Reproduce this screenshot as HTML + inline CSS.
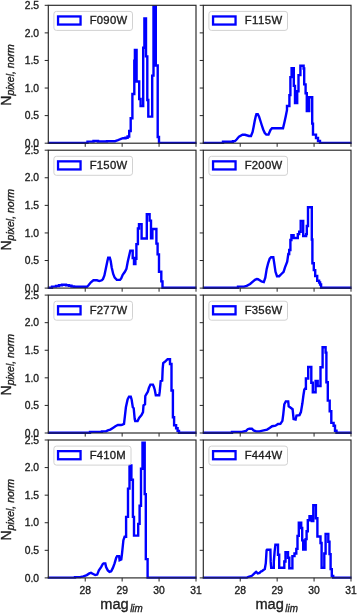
<!DOCTYPE html><html><head><meta charset="utf-8"><style>html,body{margin:0;padding:0;background:#fff;width:357px;height:614px;overflow:hidden}svg{display:block;will-change:transform}</style></head><body>
<svg width="357" height="614" viewBox="0 0 357 614" font-family='"Liberation Sans", sans-serif'>
<style>text{stroke:#1e1e1e;stroke-width:0.35px}</style>
<rect width="357" height="614" fill="#fff"/>
<clipPath id="c00"><rect x="47.80" y="5.30" width="148.70" height="139.40"/></clipPath>
<path d="M40,142.90 H87.5 V141.6 H93.5 V141 H98 V141.5 H107 V141.2 H115 L116.5,140.7 L118,140.2 L119.5,139.5 L121,138.8 L123,138.2 H125.5 V137.8 H127.6 V136.5 H129.2 V131 H130.7 V118.3 H132.4 V94 H134.3 V60.8 H134.9 V50 H136.6 V81.5 H139.2 V99 H140.6 V106 H143.2 V47.8 H144.4 V18.4 H146 V56.4 H147.3 V100 H148.3 V116.6 H152.2 V75.6 H153.5 V0 H155.8 V65.5 H157.7 V137 H159 V 142.90 H200" fill="none" stroke="#0000ff" stroke-width="2.4" stroke-linejoin="miter" clip-path="url(#c00)"/>
<rect x="48.30" y="5.30" width="147.70" height="137.90" fill="none" stroke="#262626" stroke-width="1.15"/>
<line x1="44.70" y1="143.20" x2="48.30" y2="143.20" stroke="#262626" stroke-width="1"/>
<text x="39.10" y="146.90" font-size="10.3" text-anchor="end" fill="#1e1e1e">0.0</text>
<line x1="44.70" y1="115.62" x2="48.30" y2="115.62" stroke="#262626" stroke-width="1"/>
<text x="39.10" y="119.32" font-size="10.3" text-anchor="end" fill="#1e1e1e">0.5</text>
<line x1="44.70" y1="88.04" x2="48.30" y2="88.04" stroke="#262626" stroke-width="1"/>
<text x="39.10" y="91.74" font-size="10.3" text-anchor="end" fill="#1e1e1e">1.0</text>
<line x1="44.70" y1="60.46" x2="48.30" y2="60.46" stroke="#262626" stroke-width="1"/>
<text x="39.10" y="64.16" font-size="10.3" text-anchor="end" fill="#1e1e1e">1.5</text>
<line x1="44.70" y1="32.88" x2="48.30" y2="32.88" stroke="#262626" stroke-width="1"/>
<text x="39.10" y="36.58" font-size="10.3" text-anchor="end" fill="#1e1e1e">2.0</text>
<line x1="44.70" y1="5.30" x2="48.30" y2="5.30" stroke="#262626" stroke-width="1"/>
<text x="39.10" y="9.00" font-size="10.3" text-anchor="end" fill="#1e1e1e">2.5</text>
<line x1="85.22" y1="143.20" x2="85.22" y2="146.80" stroke="#262626" stroke-width="1"/>
<line x1="122.15" y1="143.20" x2="122.15" y2="146.80" stroke="#262626" stroke-width="1"/>
<line x1="159.07" y1="143.20" x2="159.07" y2="146.80" stroke="#262626" stroke-width="1"/>
<line x1="196.00" y1="143.20" x2="196.00" y2="146.80" stroke="#262626" stroke-width="1"/>
<rect x="53.90" y="11.40" width="78.6" height="19" rx="2.5" fill="#fff" fill-opacity="0.8" stroke="#d2d2d2" stroke-width="1"/>
<rect x="58.05" y="16.45" width="22.5" height="8.1" fill="none" stroke="#0000ff" stroke-width="2.3"/>
<text x="89.70" y="24.30" font-size="11.3" textLength="37.4" lengthAdjust="spacing" fill="#1e1e1e">F090W</text>
<clipPath id="c01"><rect x="202.80" y="5.30" width="148.70" height="139.40"/></clipPath>
<path d="M195,142.90 H223 V141.7 H233 V141.1 H235 L236.6,139.5 L239,136.6 L242.5,134.8 H245 L249,136 H251 L252.6,132 L253.6,127 L254.7,121 L255.8,116 L256.4,114.2 H257.8 L259,116.5 L260.3,120.5 L261.7,125 L263.2,129.5 L264.8,133 L266.3,134.6 H268.5 L270.5,130 L272,128.3 H283 L284.5,122 L285.8,116 L287,110 V106 H289.4 V95.1 H290.4 V77.1 H291.6 V68.3 H293.8 V85.9 H295 V103 H297.2 V91.2 H298.5 V75.1 H300.4 V65.7 H303.6 V68.5 H304.2 V84.4 H305.6 V93.2 H306.8 V111 H309.2 V97.3 H312.2 V123.6 H313 V134.6 H316 V138 H318 V141 H320 V 142.90 H360" fill="none" stroke="#0000ff" stroke-width="2.4" stroke-linejoin="miter" clip-path="url(#c01)"/>
<rect x="203.30" y="5.30" width="147.70" height="137.90" fill="none" stroke="#262626" stroke-width="1.15"/>
<line x1="199.70" y1="143.20" x2="203.30" y2="143.20" stroke="#262626" stroke-width="1"/>
<line x1="199.70" y1="115.62" x2="203.30" y2="115.62" stroke="#262626" stroke-width="1"/>
<line x1="199.70" y1="88.04" x2="203.30" y2="88.04" stroke="#262626" stroke-width="1"/>
<line x1="199.70" y1="60.46" x2="203.30" y2="60.46" stroke="#262626" stroke-width="1"/>
<line x1="199.70" y1="32.88" x2="203.30" y2="32.88" stroke="#262626" stroke-width="1"/>
<line x1="199.70" y1="5.30" x2="203.30" y2="5.30" stroke="#262626" stroke-width="1"/>
<line x1="240.23" y1="143.20" x2="240.23" y2="146.80" stroke="#262626" stroke-width="1"/>
<line x1="277.15" y1="143.20" x2="277.15" y2="146.80" stroke="#262626" stroke-width="1"/>
<line x1="314.07" y1="143.20" x2="314.07" y2="146.80" stroke="#262626" stroke-width="1"/>
<line x1="351.00" y1="143.20" x2="351.00" y2="146.80" stroke="#262626" stroke-width="1"/>
<rect x="208.90" y="11.40" width="78.6" height="19" rx="2.5" fill="#fff" fill-opacity="0.8" stroke="#d2d2d2" stroke-width="1"/>
<rect x="213.05" y="16.45" width="22.5" height="8.1" fill="none" stroke="#0000ff" stroke-width="2.3"/>
<text x="244.70" y="24.30" font-size="11.3" textLength="37.4" lengthAdjust="spacing" fill="#1e1e1e">F115W</text>
<text transform="translate(11.4,74.95) rotate(-90)" text-anchor="middle" fill="#1e1e1e"><tspan font-size="14">N</tspan><tspan font-size="10.5" font-style="italic" dy="2.5">pixel, norm</tspan></text>
<clipPath id="c10"><rect x="47.80" y="150.20" width="148.70" height="139.40"/></clipPath>
<path d="M40,287.80 H52 V286.6 H56 V286 H59 V285.2 H62 V284.7 H66 V285.2 H69 V285.8 H71.5 V286.5 H74 V286.8 H87 L88.5,285.3 L90.9,282.3 L93.4,280.3 H97 L99.3,281.1 L101.8,280.3 L103,279 L104.4,275.5 L105.9,268.2 L107.3,261.6 L108.2,257.6 H109.8 L110.7,261 L111.7,267.4 L113.2,274 L114.7,277.7 L116.8,279.9 H120 L121.2,278.4 L122.7,274.8 L124.9,271.8 L126.4,268.9 L127.8,261.6 L129.3,255 L130.3,250.6 H132.7 V258 H134 V264 H135.4 V258.7 H136.4 V244.1 H137.9 V228.5 H139 V224.1 H141.6 V238.5 H146.8 V214.3 H149.6 V220.6 H151 V238.2 H152.4 V229 H156.4 V243.6 H157.6 V254.4 H159 V271.8 H161.3 V281.4 H162.5 V 287.80 H200" fill="none" stroke="#0000ff" stroke-width="2.4" stroke-linejoin="miter" clip-path="url(#c10)"/>
<rect x="48.30" y="150.20" width="147.70" height="137.90" fill="none" stroke="#262626" stroke-width="1.15"/>
<line x1="44.70" y1="288.10" x2="48.30" y2="288.10" stroke="#262626" stroke-width="1"/>
<text x="39.10" y="291.80" font-size="10.3" text-anchor="end" fill="#1e1e1e">0.0</text>
<line x1="44.70" y1="260.52" x2="48.30" y2="260.52" stroke="#262626" stroke-width="1"/>
<text x="39.10" y="264.22" font-size="10.3" text-anchor="end" fill="#1e1e1e">0.5</text>
<line x1="44.70" y1="232.94" x2="48.30" y2="232.94" stroke="#262626" stroke-width="1"/>
<text x="39.10" y="236.64" font-size="10.3" text-anchor="end" fill="#1e1e1e">1.0</text>
<line x1="44.70" y1="205.36" x2="48.30" y2="205.36" stroke="#262626" stroke-width="1"/>
<text x="39.10" y="209.06" font-size="10.3" text-anchor="end" fill="#1e1e1e">1.5</text>
<line x1="44.70" y1="177.78" x2="48.30" y2="177.78" stroke="#262626" stroke-width="1"/>
<text x="39.10" y="181.48" font-size="10.3" text-anchor="end" fill="#1e1e1e">2.0</text>
<line x1="44.70" y1="150.20" x2="48.30" y2="150.20" stroke="#262626" stroke-width="1"/>
<text x="39.10" y="153.90" font-size="10.3" text-anchor="end" fill="#1e1e1e">2.5</text>
<line x1="85.22" y1="288.10" x2="85.22" y2="291.70" stroke="#262626" stroke-width="1"/>
<line x1="122.15" y1="288.10" x2="122.15" y2="291.70" stroke="#262626" stroke-width="1"/>
<line x1="159.07" y1="288.10" x2="159.07" y2="291.70" stroke="#262626" stroke-width="1"/>
<line x1="196.00" y1="288.10" x2="196.00" y2="291.70" stroke="#262626" stroke-width="1"/>
<rect x="53.90" y="156.30" width="78.6" height="19" rx="2.5" fill="#fff" fill-opacity="0.8" stroke="#d2d2d2" stroke-width="1"/>
<rect x="58.05" y="161.35" width="22.5" height="8.1" fill="none" stroke="#0000ff" stroke-width="2.3"/>
<text x="89.70" y="169.20" font-size="11.3" textLength="37.4" lengthAdjust="spacing" fill="#1e1e1e">F150W</text>
<clipPath id="c11"><rect x="202.80" y="150.20" width="148.70" height="139.40"/></clipPath>
<path d="M195,287.80 H238 V286.6 H244 L246.7,285.9 L250.1,284 L253.4,281.2 L255,279.8 L256.8,279 L258,279.2 L260.1,280.5 L261.5,281.5 L263.8,282.1 L265.3,277.7 L266.7,268.9 L268.2,263 L269.7,258.7 L271.1,257.2 H273.3 L274,261.6 L275.5,271.8 L277,276.2 H279.2 L281.4,274 L283.6,271.8 L285,267.4 L287.2,261.6 L288.3,254 H289.2 V250 H290.4 V240 H291.4 V235.1 H293.6 V238 H297.8 V234.1 H299.2 V231.7 H300.7 V220.9 H303.2 V236 H306.1 V234.1 H306.8 V226 H308 V207.2 H311.8 V239.5 H312.4 V263.2 H313.8 V270.1 H315.2 V276 H317.2 V280.8 H319.1 V282.5 H320.1 V284.5 H321.1 V 287.80 H360" fill="none" stroke="#0000ff" stroke-width="2.4" stroke-linejoin="miter" clip-path="url(#c11)"/>
<rect x="203.30" y="150.20" width="147.70" height="137.90" fill="none" stroke="#262626" stroke-width="1.15"/>
<line x1="199.70" y1="288.10" x2="203.30" y2="288.10" stroke="#262626" stroke-width="1"/>
<line x1="199.70" y1="260.52" x2="203.30" y2="260.52" stroke="#262626" stroke-width="1"/>
<line x1="199.70" y1="232.94" x2="203.30" y2="232.94" stroke="#262626" stroke-width="1"/>
<line x1="199.70" y1="205.36" x2="203.30" y2="205.36" stroke="#262626" stroke-width="1"/>
<line x1="199.70" y1="177.78" x2="203.30" y2="177.78" stroke="#262626" stroke-width="1"/>
<line x1="199.70" y1="150.20" x2="203.30" y2="150.20" stroke="#262626" stroke-width="1"/>
<line x1="240.23" y1="288.10" x2="240.23" y2="291.70" stroke="#262626" stroke-width="1"/>
<line x1="277.15" y1="288.10" x2="277.15" y2="291.70" stroke="#262626" stroke-width="1"/>
<line x1="314.07" y1="288.10" x2="314.07" y2="291.70" stroke="#262626" stroke-width="1"/>
<line x1="351.00" y1="288.10" x2="351.00" y2="291.70" stroke="#262626" stroke-width="1"/>
<rect x="208.90" y="156.30" width="78.6" height="19" rx="2.5" fill="#fff" fill-opacity="0.8" stroke="#d2d2d2" stroke-width="1"/>
<rect x="213.05" y="161.35" width="22.5" height="8.1" fill="none" stroke="#0000ff" stroke-width="2.3"/>
<text x="244.70" y="169.20" font-size="11.3" textLength="37.4" lengthAdjust="spacing" fill="#1e1e1e">F200W</text>
<text transform="translate(11.4,219.85) rotate(-90)" text-anchor="middle" fill="#1e1e1e"><tspan font-size="14">N</tspan><tspan font-size="10.5" font-style="italic" dy="2.5">pixel, norm</tspan></text>
<clipPath id="c20"><rect x="47.80" y="295.10" width="148.70" height="139.40"/></clipPath>
<path d="M40,432.70 H90 V431.9 H102 V431.4 H106 L107.8,430.4 L110.3,429.6 L112.9,427.9 L115.4,426.2 L117.9,425 H121 L122,424.9 L124,423.9 L124.9,416.1 L125.9,407.3 L127.6,399.4 L129,396.8 H130.8 L131.6,399.4 L132.8,407.3 L133.7,408.2 L134.7,419 L135.2,421 H137.6 L139.1,418 L141.5,415.1 L143,412.1 L143.5,405.3 L145,404.3 L145.3,396 L146.4,394.1 L147.9,391.6 L148.9,388 L150.4,384.6 H152.9 L153.9,387 L154.8,390 L155.8,395.3 H159.2 L159.7,391.9 L160.7,381.2 L162.2,380.7 L162.7,368.5 L163.2,363.1 L164.6,362.1 L166.1,360.6 L167.6,359.2 H170 V364 H171.5 V390.5 H172.9 V417.3 H174.1 V425.3 H176.1 V428.3 H177.6 V430.9 H179 V 432.70 H200" fill="none" stroke="#0000ff" stroke-width="2.4" stroke-linejoin="miter" clip-path="url(#c20)"/>
<rect x="48.30" y="295.10" width="147.70" height="137.90" fill="none" stroke="#262626" stroke-width="1.15"/>
<line x1="44.70" y1="433.00" x2="48.30" y2="433.00" stroke="#262626" stroke-width="1"/>
<text x="39.10" y="436.70" font-size="10.3" text-anchor="end" fill="#1e1e1e">0.0</text>
<line x1="44.70" y1="405.42" x2="48.30" y2="405.42" stroke="#262626" stroke-width="1"/>
<text x="39.10" y="409.12" font-size="10.3" text-anchor="end" fill="#1e1e1e">0.5</text>
<line x1="44.70" y1="377.84" x2="48.30" y2="377.84" stroke="#262626" stroke-width="1"/>
<text x="39.10" y="381.54" font-size="10.3" text-anchor="end" fill="#1e1e1e">1.0</text>
<line x1="44.70" y1="350.26" x2="48.30" y2="350.26" stroke="#262626" stroke-width="1"/>
<text x="39.10" y="353.96" font-size="10.3" text-anchor="end" fill="#1e1e1e">1.5</text>
<line x1="44.70" y1="322.68" x2="48.30" y2="322.68" stroke="#262626" stroke-width="1"/>
<text x="39.10" y="326.38" font-size="10.3" text-anchor="end" fill="#1e1e1e">2.0</text>
<line x1="44.70" y1="295.10" x2="48.30" y2="295.10" stroke="#262626" stroke-width="1"/>
<text x="39.10" y="298.80" font-size="10.3" text-anchor="end" fill="#1e1e1e">2.5</text>
<line x1="85.22" y1="433.00" x2="85.22" y2="436.60" stroke="#262626" stroke-width="1"/>
<line x1="122.15" y1="433.00" x2="122.15" y2="436.60" stroke="#262626" stroke-width="1"/>
<line x1="159.07" y1="433.00" x2="159.07" y2="436.60" stroke="#262626" stroke-width="1"/>
<line x1="196.00" y1="433.00" x2="196.00" y2="436.60" stroke="#262626" stroke-width="1"/>
<rect x="53.90" y="301.20" width="78.6" height="19" rx="2.5" fill="#fff" fill-opacity="0.8" stroke="#d2d2d2" stroke-width="1"/>
<rect x="58.05" y="306.25" width="22.5" height="8.1" fill="none" stroke="#0000ff" stroke-width="2.3"/>
<text x="89.70" y="314.10" font-size="11.3" textLength="37.4" lengthAdjust="spacing" fill="#1e1e1e">F277W</text>
<clipPath id="c21"><rect x="202.80" y="295.10" width="148.70" height="139.40"/></clipPath>
<path d="M195,432.70 H232 V431.9 H242 L246.1,430.8 L247.7,429.2 L249.4,428.7 H251.9 L253.6,430.4 L256.1,431.4 H259.5 L263.7,430.4 L267.1,429.6 L269.6,427.9 L272.1,426.2 L275.5,425.7 L278,424 L280.4,423.9 L282.4,420.9 L283.3,414.1 L284.3,404.3 L285.8,401.4 H288.2 L288.7,406.3 L290.7,407.7 L292.6,409.2 L293.6,419 L295.6,419.5 L296.5,415.6 L299.5,415.1 L300.9,412.1 L302.4,403.3 L303.4,395.5 L304.3,389.7 L304.9,388.8 H305.9 V378.5 H308.2 V367 H311.3 V382.8 H312.8 V392.3 H315.6 V381 H317.7 V386 H320.5 V367.3 H322.6 V347.2 H325.6 V352.6 H326.4 V382.3 H327.8 V400.6 H329.7 V411.2 H331.3 V422.9 H333.6 V425.8 H335 V430.7 H336.5 V 432.70 H360" fill="none" stroke="#0000ff" stroke-width="2.4" stroke-linejoin="miter" clip-path="url(#c21)"/>
<rect x="203.30" y="295.10" width="147.70" height="137.90" fill="none" stroke="#262626" stroke-width="1.15"/>
<line x1="199.70" y1="433.00" x2="203.30" y2="433.00" stroke="#262626" stroke-width="1"/>
<line x1="199.70" y1="405.42" x2="203.30" y2="405.42" stroke="#262626" stroke-width="1"/>
<line x1="199.70" y1="377.84" x2="203.30" y2="377.84" stroke="#262626" stroke-width="1"/>
<line x1="199.70" y1="350.26" x2="203.30" y2="350.26" stroke="#262626" stroke-width="1"/>
<line x1="199.70" y1="322.68" x2="203.30" y2="322.68" stroke="#262626" stroke-width="1"/>
<line x1="199.70" y1="295.10" x2="203.30" y2="295.10" stroke="#262626" stroke-width="1"/>
<line x1="240.23" y1="433.00" x2="240.23" y2="436.60" stroke="#262626" stroke-width="1"/>
<line x1="277.15" y1="433.00" x2="277.15" y2="436.60" stroke="#262626" stroke-width="1"/>
<line x1="314.07" y1="433.00" x2="314.07" y2="436.60" stroke="#262626" stroke-width="1"/>
<line x1="351.00" y1="433.00" x2="351.00" y2="436.60" stroke="#262626" stroke-width="1"/>
<rect x="208.90" y="301.20" width="78.6" height="19" rx="2.5" fill="#fff" fill-opacity="0.8" stroke="#d2d2d2" stroke-width="1"/>
<rect x="213.05" y="306.25" width="22.5" height="8.1" fill="none" stroke="#0000ff" stroke-width="2.3"/>
<text x="244.70" y="314.10" font-size="11.3" textLength="37.4" lengthAdjust="spacing" fill="#1e1e1e">F356W</text>
<text transform="translate(11.4,364.75) rotate(-90)" text-anchor="middle" fill="#1e1e1e"><tspan font-size="14">N</tspan><tspan font-size="10.5" font-style="italic" dy="2.5">pixel, norm</tspan></text>
<clipPath id="c30"><rect x="47.80" y="440.00" width="148.70" height="139.40"/></clipPath>
<path d="M40,577.60 H75 V577.1 H80 L83.4,576.3 L86.8,575.1 L89.3,573.4 L91,572.9 L92.7,573.8 L95.2,575.1 L97.2,574.6 L98.9,570.4 L101.1,567.1 L102.8,564 L103.6,563.4 H105.3 L106.1,567.1 L107.8,570.4 L109.5,571.8 L111.2,571.3 L112.9,567.9 L114.5,563.7 L116.2,557.8 L117.1,556.1 H119.1 L119.6,560.3 L121.3,559.5 L122.1,552.8 L123.4,540.2 L124.6,536.8 H126.1 V516.9 H128 V488.6 H129.5 V465.5 H131.4 V479.8 H132.9 V516.9 H134 V535.6 H138.2 V523.9 H139.6 V505.8 H141 V468.7 H142.5 V442.8 H144.7 V494.1 H145.8 V559.1 H147.6 V 577.60 H200" fill="none" stroke="#0000ff" stroke-width="2.4" stroke-linejoin="miter" clip-path="url(#c30)"/>
<rect x="48.30" y="440.00" width="147.70" height="137.90" fill="none" stroke="#262626" stroke-width="1.15"/>
<line x1="44.70" y1="577.90" x2="48.30" y2="577.90" stroke="#262626" stroke-width="1"/>
<text x="39.10" y="581.60" font-size="10.3" text-anchor="end" fill="#1e1e1e">0.0</text>
<line x1="44.70" y1="550.32" x2="48.30" y2="550.32" stroke="#262626" stroke-width="1"/>
<text x="39.10" y="554.02" font-size="10.3" text-anchor="end" fill="#1e1e1e">0.5</text>
<line x1="44.70" y1="522.74" x2="48.30" y2="522.74" stroke="#262626" stroke-width="1"/>
<text x="39.10" y="526.44" font-size="10.3" text-anchor="end" fill="#1e1e1e">1.0</text>
<line x1="44.70" y1="495.16" x2="48.30" y2="495.16" stroke="#262626" stroke-width="1"/>
<text x="39.10" y="498.86" font-size="10.3" text-anchor="end" fill="#1e1e1e">1.5</text>
<line x1="44.70" y1="467.58" x2="48.30" y2="467.58" stroke="#262626" stroke-width="1"/>
<text x="39.10" y="471.28" font-size="10.3" text-anchor="end" fill="#1e1e1e">2.0</text>
<line x1="44.70" y1="440.00" x2="48.30" y2="440.00" stroke="#262626" stroke-width="1"/>
<text x="39.10" y="443.70" font-size="10.3" text-anchor="end" fill="#1e1e1e">2.5</text>
<line x1="85.22" y1="577.90" x2="85.22" y2="581.50" stroke="#262626" stroke-width="1"/>
<text x="85.22" y="593.70" font-size="10.3" text-anchor="middle" fill="#1e1e1e">28</text>
<line x1="122.15" y1="577.90" x2="122.15" y2="581.50" stroke="#262626" stroke-width="1"/>
<text x="122.15" y="593.70" font-size="10.3" text-anchor="middle" fill="#1e1e1e">29</text>
<line x1="159.07" y1="577.90" x2="159.07" y2="581.50" stroke="#262626" stroke-width="1"/>
<text x="159.07" y="593.70" font-size="10.3" text-anchor="middle" fill="#1e1e1e">30</text>
<line x1="196.00" y1="577.90" x2="196.00" y2="581.50" stroke="#262626" stroke-width="1"/>
<text x="196.00" y="593.70" font-size="10.3" text-anchor="middle" fill="#1e1e1e">31</text>
<rect x="53.90" y="446.10" width="77.1" height="19" rx="2.5" fill="#fff" fill-opacity="0.8" stroke="#d2d2d2" stroke-width="1"/>
<rect x="58.05" y="451.15" width="22.5" height="8.1" fill="none" stroke="#0000ff" stroke-width="2.3"/>
<text x="89.70" y="459.00" font-size="11.3" textLength="36.0" lengthAdjust="spacing" fill="#1e1e1e">F410M</text>
<clipPath id="c31"><rect x="202.80" y="440.00" width="148.70" height="139.40"/></clipPath>
<path d="M195,577.60 H247 L248.5,576.8 L251.9,575.8 L254.4,573.4 L256.1,571.8 L257.8,573.4 L259.5,572.9 L261.1,571.3 L262,571.2 L263.7,569.8 L264.8,569 L265.8,563.2 L266.6,550.2 L267,549.7 H270.4 L270.7,561.9 L271.2,567.8 H273.8 V561.9 L274.6,551.8 L275.4,544.7 H278 V554.8 H279.2 V567.8 H284.3 V561.5 H285.5 V552.3 H288 V557.7 H289.3 V568.2 H292.4 V556.1 H294.5 V553.5 H296.3 V548.9 H297.5 V535.9 H298.8 V522.8 H301.2 V528 H302.2 V540.4 H303.2 V549.5 H305.6 V539.1 H306.6 V531.3 H307.8 V520.2 H309.5 V516.3 H311.8 V521 H313.3 V505.2 H315.9 V518.3 H317.4 V536.5 H320.5 V543 H321.6 V567.8 H324.3 V553.5 H325.6 V533.9 H328.3 V541.7 H329.5 V554.1 H330.6 V569.1 H331.8 V576 H333.2 V 577.60 H360" fill="none" stroke="#0000ff" stroke-width="2.4" stroke-linejoin="miter" clip-path="url(#c31)"/>
<rect x="203.30" y="440.00" width="147.70" height="137.90" fill="none" stroke="#262626" stroke-width="1.15"/>
<line x1="199.70" y1="577.90" x2="203.30" y2="577.90" stroke="#262626" stroke-width="1"/>
<line x1="199.70" y1="550.32" x2="203.30" y2="550.32" stroke="#262626" stroke-width="1"/>
<line x1="199.70" y1="522.74" x2="203.30" y2="522.74" stroke="#262626" stroke-width="1"/>
<line x1="199.70" y1="495.16" x2="203.30" y2="495.16" stroke="#262626" stroke-width="1"/>
<line x1="199.70" y1="467.58" x2="203.30" y2="467.58" stroke="#262626" stroke-width="1"/>
<line x1="199.70" y1="440.00" x2="203.30" y2="440.00" stroke="#262626" stroke-width="1"/>
<line x1="240.23" y1="577.90" x2="240.23" y2="581.50" stroke="#262626" stroke-width="1"/>
<text x="240.23" y="593.70" font-size="10.3" text-anchor="middle" fill="#1e1e1e">28</text>
<line x1="277.15" y1="577.90" x2="277.15" y2="581.50" stroke="#262626" stroke-width="1"/>
<text x="277.15" y="593.70" font-size="10.3" text-anchor="middle" fill="#1e1e1e">29</text>
<line x1="314.07" y1="577.90" x2="314.07" y2="581.50" stroke="#262626" stroke-width="1"/>
<text x="314.07" y="593.70" font-size="10.3" text-anchor="middle" fill="#1e1e1e">30</text>
<line x1="351.00" y1="577.90" x2="351.00" y2="581.50" stroke="#262626" stroke-width="1"/>
<text x="351.00" y="593.70" font-size="10.3" text-anchor="middle" fill="#1e1e1e">31</text>
<rect x="208.90" y="446.10" width="78.6" height="19" rx="2.5" fill="#fff" fill-opacity="0.8" stroke="#d2d2d2" stroke-width="1"/>
<rect x="213.05" y="451.15" width="22.5" height="8.1" fill="none" stroke="#0000ff" stroke-width="2.3"/>
<text x="244.70" y="459.00" font-size="11.3" textLength="37.4" lengthAdjust="spacing" fill="#1e1e1e">F444W</text>
<text transform="translate(11.4,509.65) rotate(-90)" text-anchor="middle" fill="#1e1e1e"><tspan font-size="14">N</tspan><tspan font-size="10.5" font-style="italic" dy="2.5">pixel, norm</tspan></text>
<text x="100.25" y="609.3" font-size="14" textLength="28.4" lengthAdjust="spacingAndGlyphs" fill="#1e1e1e">mag</text>
<text x="130.15" y="611.7" font-size="10.5" font-style="italic" textLength="12.6" lengthAdjust="spacingAndGlyphs" fill="#1e1e1e">lim</text>
<text x="255.45" y="609.3" font-size="14" textLength="28.4" lengthAdjust="spacingAndGlyphs" fill="#1e1e1e">mag</text>
<text x="285.35" y="611.7" font-size="10.5" font-style="italic" textLength="12.6" lengthAdjust="spacingAndGlyphs" fill="#1e1e1e">lim</text>
</svg></body></html>
